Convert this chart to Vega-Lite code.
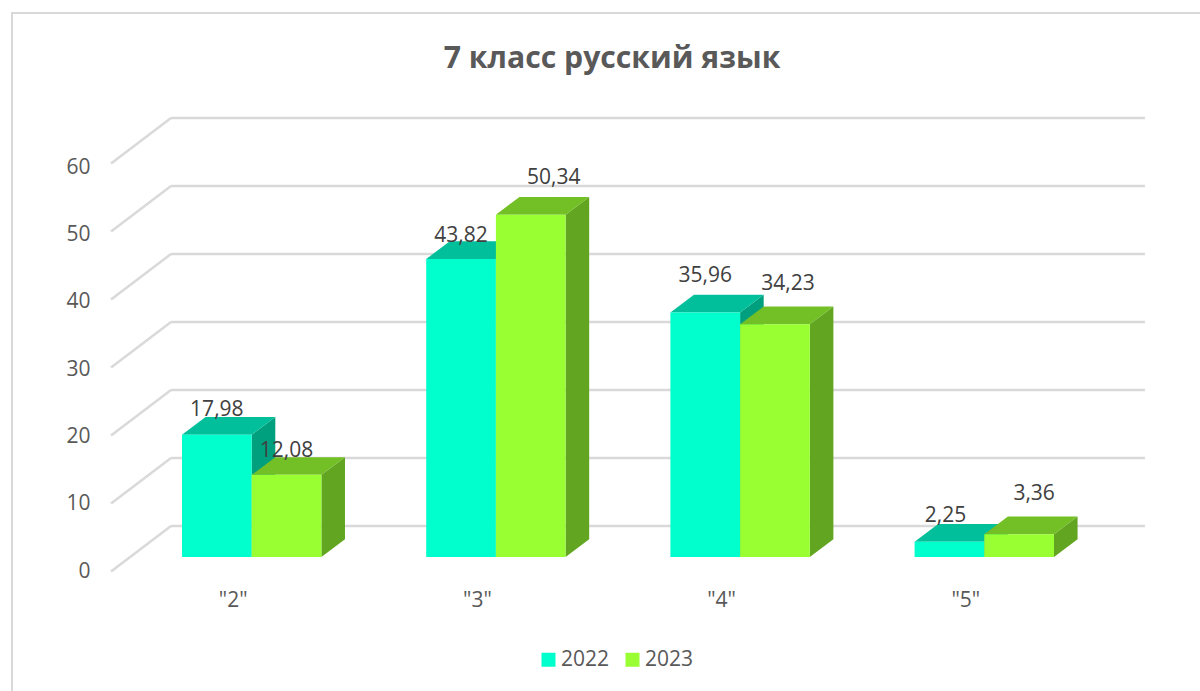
{
"$schema":"https://vega.github.io/schema/vega-lite/v6.json",
"width":1200,"height":691,"padding":0,"autosize":{"type":"none"},
"background":"#ffffff",
"config":{"view":{"stroke":null},"font":"Open Sans","text":{"font":"Open Sans"}},
"title":{"text":"7 класс русский язык","fontSize":30.2,"fontWeight":"bold","color":"#595959","font":"Open Sans","anchor":"middle","offset":-74,"dx":12},
"datasets":{
"bars":[
{"grade":"\"2\"","year":2022,"value":17.98},
{"grade":"\"2\"","year":2023,"value":12.08},
{"grade":"\"3\"","year":2022,"value":43.82},
{"grade":"\"3\"","year":2023,"value":50.34},
{"grade":"\"4\"","year":2022,"value":35.96},
{"grade":"\"4\"","year":2023,"value":34.23},
{"grade":"\"5\"","year":2022,"value":2.25},
{"grade":"\"5\"","year":2023,"value":3.36}],
"ticks":[{"tick":0},{"tick":10},{"tick":20},{"tick":30},{"tick":40},{"tick":50},{"tick":60}]
},
"resolve":{"scale":{"y":"independent"},"axis":{"x":"independent","y":"independent"}},
"layer":[
{"data":{"name":"ticks"},
 "mark":{"type":"point","opacity":0},
 "encoding":{
  "y":{"field":"tick","type":"quantitative","scale":{"domain":[-17.79,84.81],"nice":false,"zero":false},
   "axis":{"values":[0,10,20,30,40,50,60],"domain":false,"ticks":false,"grid":false,"title":null,"orient":"left","offset":-90,"labelPadding":0,"labelFontSize":21,"labelColor":"#595959","labelFont":"Open Sans"}},
  "x":{"datum":0,"type":"quantitative","scale":{"domain":[-1.0307,3.8833],"nice":false,"zero":false},
   "axis":{"values":[0,1,2,3],"labelExpr":"'\"' + (datum.value+2) + '\"'","domain":false,"ticks":false,"grid":false,"title":null,"orient":"bottom","offset":-102,"labelPadding":0,"labelOffset":-19,"labelFontSize":21,"labelColor":"#595959","labelFont":"Open Sans"}}
 }},
{"layer":[
 {"data":{"values":[{"l":-0.9816,"r":4.2,"b":-25,"t":80}]},
  "mark":{"type":"rect","fill":"transparent","stroke":"#d9d9d9","strokeWidth":2},
  "encoding":{"x":{"field":"l","type":"quantitative","scale":{"domain":[-1.0307,3.8833],"nice":false,"zero":false},"axis":null},"x2":{"field":"r"},
   "y":{"field":"b","type":"quantitative","scale":{"domain":[-19.706,81.912],"nice":false,"zero":false},"axis":null},"y2":{"field":"t"}}},
 {"data":{"name":"ticks"},
  "transform":[{"calculate":"datum.tick+4.56","as":"back"},{"calculate":"datum.tick-2.13","as":"front"},{"calculate":"-0.576","as":"x0"},{"calculate":"-0.3305","as":"x1"}],
  "mark":{"type":"rule","stroke":"#d9d9d9","strokeWidth":2.4},
  "encoding":{"x":{"field":"x0","type":"quantitative"},"x2":{"field":"x1"},"y":{"field":"front","type":"quantitative"},"y2":{"field":"back"}}},
 {"data":{"name":"ticks"},
  "transform":[{"calculate":"datum.tick+4.56","as":"back"},{"calculate":"-0.3305","as":"x1"},{"calculate":"3.658","as":"x2"}],
  "mark":{"type":"rule","stroke":"#d9d9d9","strokeWidth":2.4},
  "encoding":{"x":{"field":"x1","type":"quantitative"},"x2":{"field":"x2"},"y":{"field":"back","type":"quantitative"}}},

 {"data":{"name":"bars"},
  "transform":[{"filter":"datum.year==2022"},{"calculate":"indexof(['\"2\"','\"3\"','\"4\"','\"5\"'],datum.grade)","as":"idx"},{"calculate":"0","as":"e0"},{"calculate":"1","as":"e1"},{"fold":["e0","e1"],"as":["edge","e"]},
   {"calculate":"datum.idx+datum.e*0.0966","as":"px"},{"calculate":"datum.value+datum.e*2.6","as":"pt"},{"calculate":"datum.e*2.6","as":"pb"}],
  "mark":{"type":"area","orient":"vertical","fill":"#00A07F"},
  "encoding":{"detail":{"field":"grade"},"x":{"field":"px","type":"quantitative"},"y":{"field":"pt","type":"quantitative"},"y2":{"field":"pb"}}},
 {"data":{"name":"bars"},
  "transform":[{"filter":"datum.year==2022"},{"calculate":"indexof(['\"2\"','\"3\"','\"4\"','\"5\"'],datum.grade)","as":"idx"},{"calculate":"0","as":"e0"},{"calculate":"1","as":"e1"},{"fold":["e0","e1"],"as":["edge","e"]},
   {"calculate":"datum.idx-0.2854+datum.e*0.0966","as":"pl"},{"calculate":"datum.idx+datum.e*0.0966","as":"pr"},{"calculate":"datum.value+datum.e*2.6","as":"py"}],
  "mark":{"type":"area","orient":"horizontal","fill":"#00BF9A"},
  "encoding":{"detail":{"field":"grade"},"y":{"field":"py","type":"quantitative"},"x":{"field":"pl","type":"quantitative"},"x2":{"field":"pr"}}},
 {"data":{"name":"bars"},
  "transform":[{"filter":"datum.year==2022"},{"calculate":"indexof(['\"2\"','\"3\"','\"4\"','\"5\"'],datum.grade)","as":"idx"},{"calculate":"datum.idx-0.2854","as":"pl"},{"calculate":"0","as":"zero"}],
  "mark":{"type":"rect"},
  "encoding":{"x":{"field":"pl","type":"quantitative"},"x2":{"field":"idx"},"y":{"field":"value","type":"quantitative"},"y2":{"field":"zero"},
   "color":{"field":"year","type":"nominal","scale":{"domain":[2022,2023],"range":["#00FFCC","#99FF33"]},
    "legend":{"title":null,"orient":"none","legendX":538,"legendY":649,"direction":"horizontal","columns":2,"symbolType":"square","symbolSize":196,"symbolStrokeWidth":0,"symbolOpacity":1,"labelFontSize":21,"labelColor":"#595959","labelFont":"Open Sans","columnPadding":12,"labelOffset":2}}}},

 {"data":{"name":"bars"},
  "transform":[{"filter":"datum.year==2023"},{"calculate":"indexof(['\"2\"','\"3\"','\"4\"','\"5\"'],datum.grade)+0.2854","as":"idx"},{"calculate":"0","as":"e0"},{"calculate":"1","as":"e1"},{"fold":["e0","e1"],"as":["edge","e"]},
   {"calculate":"datum.idx+datum.e*0.0966","as":"px"},{"calculate":"datum.value+datum.e*2.6","as":"pt"},{"calculate":"datum.e*2.6","as":"pb"}],
  "mark":{"type":"area","orient":"vertical","fill":"#62A520"},
  "encoding":{"detail":{"field":"grade"},"x":{"field":"px","type":"quantitative"},"y":{"field":"pt","type":"quantitative"},"y2":{"field":"pb"}}},
 {"data":{"name":"bars"},
  "transform":[{"filter":"datum.year==2023"},{"calculate":"indexof(['\"2\"','\"3\"','\"4\"','\"5\"'],datum.grade)","as":"idx"},{"calculate":"0","as":"e0"},{"calculate":"1","as":"e1"},{"fold":["e0","e1"],"as":["edge","e"]},
   {"calculate":"datum.idx+datum.e*0.0966","as":"pl"},{"calculate":"datum.idx+0.2854+datum.e*0.0966","as":"pr"},{"calculate":"datum.value+datum.e*2.6","as":"py"}],
  "mark":{"type":"area","orient":"horizontal","fill":"#73BF26"},
  "encoding":{"detail":{"field":"grade"},"y":{"field":"py","type":"quantitative"},"x":{"field":"pl","type":"quantitative"},"x2":{"field":"pr"}}},
 {"data":{"name":"bars"},
  "transform":[{"filter":"datum.year==2023"},{"calculate":"indexof(['\"2\"','\"3\"','\"4\"','\"5\"'],datum.grade)","as":"idx"},{"calculate":"datum.idx+0.2854","as":"pr"},{"calculate":"0","as":"zero"}],
  "mark":{"type":"rect"},
  "encoding":{"x":{"field":"idx","type":"quantitative"},"x2":{"field":"pr"},"y":{"field":"value","type":"quantitative"},"y2":{"field":"zero"},
   "color":{"field":"year","type":"nominal"}}},

 {"data":{"name":"bars"},
  "transform":[{"calculate":"indexof(['\"2\"','\"3\"','\"4\"','\"5\"'],datum.grade)","as":"idx"},
   {"calculate":"datum.idx*2+datum.year-2022","as":"k"},
   {"calculate":"datum.idx+[-0.1427,0.1427,-0.1427,0.2369,-0.1427,0.1959,-0.1591,0.2041][datum.k]","as":"lx"},
   {"calculate":"datum.value+[3.57,3.57,3.43,5.34,5.34,5.93,3.72,5.93][datum.k]","as":"ly"},
   {"calculate":"replace(format(datum.value,'.2f'),'.',',')","as":"label"}],
  "mark":{"type":"text","fontSize":21,"font":"Open Sans","fill":"#404040","align":"center","baseline":"middle"},
  "encoding":{"x":{"field":"lx","type":"quantitative"},"y":{"field":"ly","type":"quantitative"},"text":{"field":"label"}}}
]}
]
}
